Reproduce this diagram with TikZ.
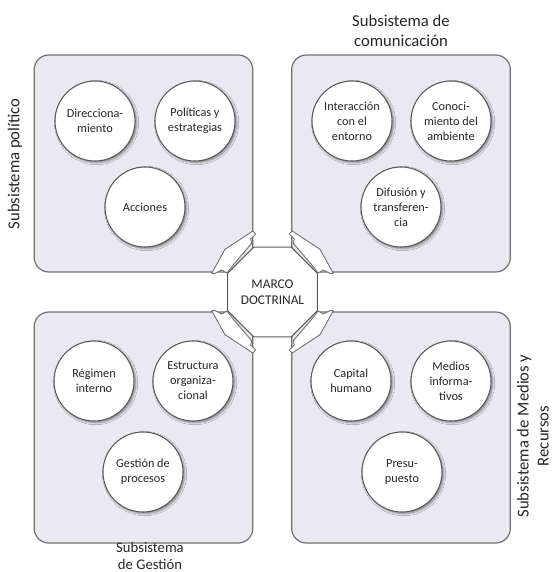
\documentclass[tikz,border=0pt]{standalone}
\usepackage{fontspec}
\setmainfont{Carlito}
\usetikzlibrary{positioning}
\usetikzlibrary{shapes.geometric}
\usetikzlibrary{shadows.blur}
\definecolor{panelfill}{RGB}{234,232,240}
\definecolor{panelline}{RGB}{112,112,112}
\definecolor{itemline}{RGB}{90,90,90}
\def\myitemsize{60pt}
\def\mytitlefont{\fontsize{12.5}{15}\selectfont}
\def\myclasp{(-60.8,-18.7) -- (-47.5,-42.7) -- (-24.2,-58) -- (-19.8,-61)
  -- (-16.8,-58) -- (-21.8,-53) -- (-20.8,-48.7) -- (-40.8,-25.3)
  -- (-45.5,-19) -- (-50.8,-22) -- (-57.5,-18.7) -- cycle}
\tikzset{
semithick, % All lines semithick
my panel/.style={draw=panelline,fill=panelfill,line width=0.9pt,rounded corners=11pt,
  minimum width=164pt,inner sep=0pt},
my top panel/.style={my panel,minimum height=162.75pt},
my low panel/.style={my panel,minimum height=173.25pt},
my item/.style={circle,draw=itemline,fill=white,line width=0.8pt,minimum size=\myitemsize,
  inner sep=0pt,align=center,text=black!85,font=\fontsize{9.2}{11.3}\selectfont,
  blur shadow={shadow xshift=1.2pt,shadow yshift=-1.2pt,shadow blur radius=1.6pt,shadow opacity=45}},
my marco/.style={regular polygon,regular polygon sides=8,draw=itemline,fill=white,
  line width=0.8pt,minimum size=73pt,inner sep=0pt,align=center,text=black!85,
  font=\fontsize{10}{12}\selectfont},
my clasp/.style={draw=black!55,fill=white,line width=0.7pt,line join=round},
my title/.style={align=center,inner sep=0pt,text=black!85,font=\mytitlefont},
}
\begin{document}
\begin{tikzpicture}[x=0.75pt,y=-0.75pt]
\useasboundingbox (0,0) rectangle (552,572);
% subsystems
\node[my top panel] (politico)     at (143.5,163.5) {};
\node[my top panel] (comunicacion) at (401,163.5)   {};
\node[my low panel] (gestion)      at (143.5,427.5) {};
\node[my low panel] (recursos)     at (401,427.5)   {};
% centre
\node[my marco] (marco) at (272.5,292) {MARCO\\DOCTRINAL};
\foreach \sx/\sy in {1/1,-1/1,1/-1,-1/-1}
  \draw[my clasp,shift={(marco.center)},xscale=\sx,yscale=\sy] \myclasp;
% items
\node[my item] (direccion)  at (95,121)  {Direcciona-\\miento};
\node[my item] (politicas)  at (195,121) {Políticas y\\estrategias};
\node[my item] (acciones)   at (145,207) {Acciones};
\node[my item] (interaccion) at (352,121) {Interacción\\con el\\entorno};
\node[my item] (conocimiento) at (451,121) {Conoci-\\miento del\\ambiente};
\node[my item] (difusion)   at (401,207) {Difusión y\\transferen-\\cia};
\node[my item] (regimen)    at (94,381)  {Régimen\\interno};
\node[my item] (estructura) at (193,381) {Estructura\\organiza-\\cional};
\node[my item] (procesos)   at (143,472) {Gestión de\\procesos};
\node[my item] (capital)    at (351,381) {Capital\\humano};
\node[my item] (medios)     at (451,381) {Medios\\informa-\\tivos};
\node[my item] (presupuesto) at (402,472) {Presu-\\puesto};
% titles
\node[my title,above=6pt of comunicacion] (t-com) {Subsistema de\\comunicación};
\node[my title,font=\fontsize{11}{12.5}\selectfont] (t-ges) at (150,556) {Subsistema\\de Gestión};
\node[my title,rotate=90] (t-pol) at (15,164)  {Subsistema político};
\node[my title,rotate=90] (t-rec) at (533,436) {Subsistema de Medios y\\Recursos};
\end{tikzpicture}
\end{document}
